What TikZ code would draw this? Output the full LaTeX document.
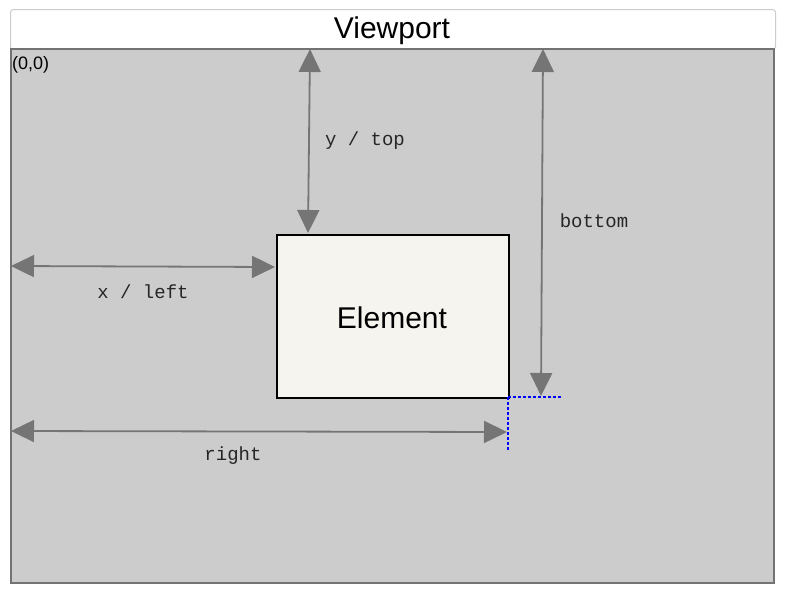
\documentclass[tikz,border=0pt]{standalone}
\usepackage{fontspec}
\setmainfont{Liberation Sans}
\newfontfamily\monofont{Liberation Mono}
\usetikzlibrary{arrows.meta}
\definecolor{vpgray}{HTML}{CCCCCC}
\definecolor{arrgray}{HTML}{757575}
\definecolor{elfill}{HTML}{F6F4EF}
\tikzset{
  dim/.style={draw=arrgray, line width=1.8pt, {Triangle[length=23pt,width=22pt]}-{Triangle[length=23pt,width=22pt]}, fill=arrgray},
  dimlabel/.style={font=\monofont\fontsize{19}{22}\selectfont, text=black!85},
  guide/.style={draw=blue, line width=1.4pt, dash pattern=on 2.5pt off 2.5pt}
}
\begin{document}
\begin{tikzpicture}[x=1pt,y=-1pt]
\useasboundingbox (0,0) rectangle (788,592);
% title bar
\node[draw=black!20, line width=1pt, fill=white, rounded corners=3pt, minimum width=765pt, minimum height=40pt, anchor=north west, inner sep=0pt] (title) at (10,9) {};
\node[font=\fontsize{30}{34}\selectfont] (titletext) at (392,31) {Viewport};
% viewport
\node[draw=black!55, line width=2pt, fill=vpgray, minimum width=763pt, minimum height=534pt, anchor=north west, inner sep=0pt] (vp) at (10,48) {};
\node[font=\fontsize{18}{20}\selectfont, anchor=west, inner sep=0pt] (origin) at (12,65) {(0,0)};
% element
\node[draw=black, line width=1.7pt, fill=elfill, minimum width=232pt, minimum height=163pt, anchor=north west, inner sep=0pt] (el) at (276,234) {};
\node[font=\fontsize{30}{33}\selectfont] (eltext) at (392,318) {Element};
% coordinates
\coordinate (ytop) at (310,49);
\coordinate (ybot) at (308,233);
\coordinate (btop) at (543,49);
\coordinate (bbot) at (541,396);
\coordinate (xl) at (11,266);
\coordinate (xr) at (275,267);
\coordinate (rl) at (11,431);
\coordinate (rr) at (507,432);
\coordinate (corner) at (508,397);
\coordinate (gh) at (561,397);
\coordinate (gv) at (508,450);
% dimension arrows
\draw[dim] (ytop) -- (ybot);
\draw[dim] (btop) -- (bbot);
\draw[dim] (xl) -- (xr);
\draw[dim] (rl) -- (rr);
% guides
\draw[guide] (corner) -- (gh);
\draw[guide] (corner) -- (gv);
% labels
\node[dimlabel] (ylab) at (365,141) {y / top};
\node[dimlabel] (blab) at (594,221) {bottom};
\node[dimlabel] (xlab) at (143,292) {x / left};
\node[dimlabel] (rlab) at (233,456) {right};
\end{tikzpicture}
\end{document}
